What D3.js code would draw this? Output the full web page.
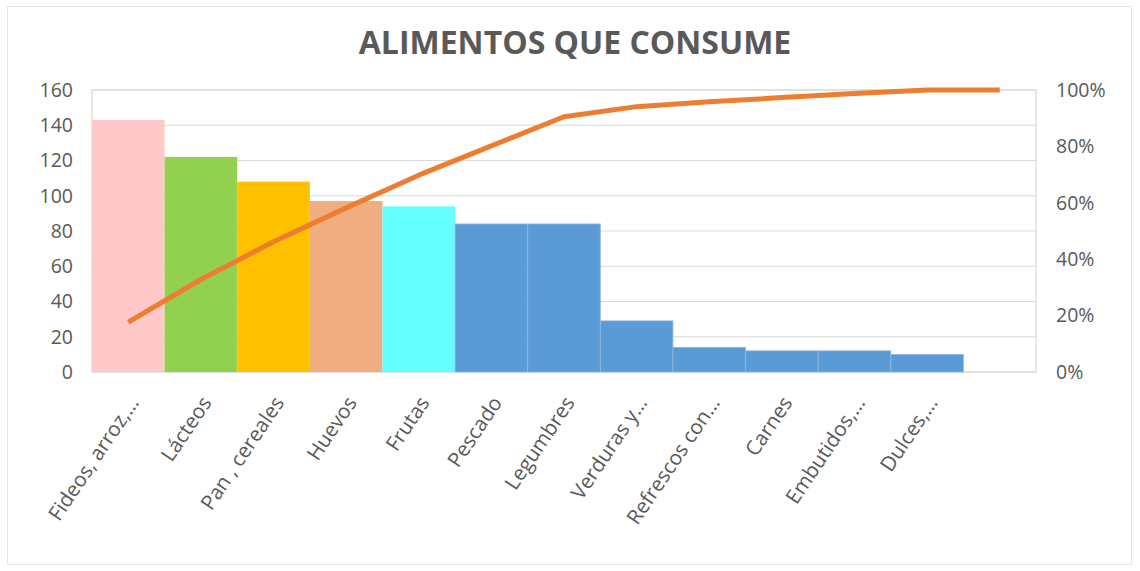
<!DOCTYPE html>
<html>
<head>
<meta charset="utf-8">
<script src="https://cdn.jsdelivr.net/npm/d3@7"></script>
<style>
  body { margin: 0; background: #fff; }
  text { font-family: "Open Sans", "Noto Sans", sans-serif; }
</style>
</head>
<body>
<div id="chart"></div>
<script>
"use strict";

// data
const categories = ["Fideos, arroz,...", "Lácteos", "Pan , cereales", "Huevos", "Frutas",
  "Pescado", "Legumbres", "Verduras y...", "Refrescos con...", "Carnes", "Embutidos,...", "Dulces,...", ""];
const counts = [143, 122, 108, 97, 94, 84, 84, 29, 14, 12, 12, 10, 0];
const cumulativePct = [17.7, 32.8, 46.2, 58.2, 69.8, 80.2, 90.5, 94.1, 95.8, 97.3, 98.8, 100, 100];
const barColors = ["#ffc9c9", "#92d050", "#ffc000", "#f0ae80", "#66ffff",
  "#5b9bd5", "#5b9bd5", "#5b9bd5", "#5b9bd5", "#5b9bd5", "#5b9bd5", "#5b9bd5", "#5b9bd5"];
const leftTicks = [0, 20, 40, 60, 80, 100, 120, 140, 160];
const rightTicks = [0, 20, 40, 60, 80, 100];

const W = 1140, H = 571;
const margin = { left: 92, top: 90, right: 104, bottom: 199 },
      w = W - margin.left - margin.right,
      h = H - margin.top - margin.bottom;

const svg = d3.select("#chart").append("svg")
  .attr("width", W).attr("height", H);

// outer frame
svg.append("rect")
  .attr("x", 7.5).attr("y", 6.5).attr("width", 1124).attr("height", 558)
  .attr("fill", "#fff").attr("stroke", "#e6e6e6");

svg.append("text")
  .attr("x", 575).attr("y", 54)
  .attr("text-anchor", "middle")
  .attr("font-size", 32).attr("font-weight", "bold")
  .attr("fill", "#595959")
  .text("ALIMENTOS QUE CONSUME");

const chart = svg.append("g")
  .attr("transform", "translate(" + margin.left + "," + margin.top + ")");

const x = d3.scaleBand().domain(d3.range(categories.length)).range([0, w]).padding(0),
      y = d3.scaleLinear().domain([0, 160]).range([h, 0]),
      y2 = d3.scaleLinear().domain([0, 100]).range([h, 0]);

// gridlines
chart.append("g")
  .selectAll("line")
  .data(leftTicks)
  .join("line")
    .attr("x1", 0).attr("x2", w)
    .attr("y1", d => y(d)).attr("y2", d => y(d))
    .attr("stroke", "#d9d9d9").attr("stroke-width", 1.2);

// plot border
chart.append("rect")
  .attr("x", 0).attr("y", 0).attr("width", w).attr("height", h)
  .attr("fill", "none").attr("stroke", "#d9d9d9").attr("stroke-width", 1.2);

// bars
chart.append("g")
  .selectAll("rect")
  .data(counts)
  .join("rect")
    .attr("x", (d, i) => x(i))
    .attr("width", x.bandwidth())
    .attr("y", d => y(d))
    .attr("height", d => h - y(d))
    .attr("fill", (d, i) => barColors[i])
    .attr("stroke", "#8db8e3")
    .attr("stroke-width", (d, i) => i >= 5 ? 0.8 : 0);

// left axis
const yAxis = chart.append("g")
  .call(d3.axisLeft(y).tickValues(leftTicks).tickSize(0).tickPadding(19));
yAxis.select(".domain").remove();
yAxis.selectAll("text").attr("font-size", 19.5).attr("fill", "#595959")
  .attr("font-family", "'Open Sans', sans-serif");

// right axis
const y2Axis = chart.append("g")
  .attr("transform", "translate(" + w + ",0)")
  .call(d3.axisRight(y2).tickValues(rightTicks).tickFormat(d => d + "%").tickSize(0).tickPadding(20));
y2Axis.select(".domain").remove();
y2Axis.selectAll("text").attr("font-size", 19.5).attr("fill", "#595959")
  .attr("font-family", "'Open Sans', sans-serif");

// x labels
const xAxis = chart.append("g")
  .attr("transform", "translate(0," + h + ")")
  .call(d3.axisBottom(x).tickFormat(i => categories[i]).tickSize(0));
xAxis.select(".domain").remove();
xAxis.selectAll("text")
  .attr("font-size", 20.5).attr("fill", "#595959")
  .attr("font-family", "'Open Sans', sans-serif")
  .style("text-anchor", "end")
  .attr("dx", 0).attr("dy", 0)
  .attr("transform", "translate(9,29) rotate(-56)");

// cumulative line
const line = d3.line()
  .x((d, i) => x(i) + x.bandwidth() / 2)
  .y(d => y2(d));

chart.append("path")
  .datum(cumulativePct)
  .attr("d", line)
  .attr("fill", "none")
  .attr("stroke", "#ed7d31")
  .attr("stroke-width", 5)
  .attr("stroke-linejoin", "round");
</script>
</body>
</html>
